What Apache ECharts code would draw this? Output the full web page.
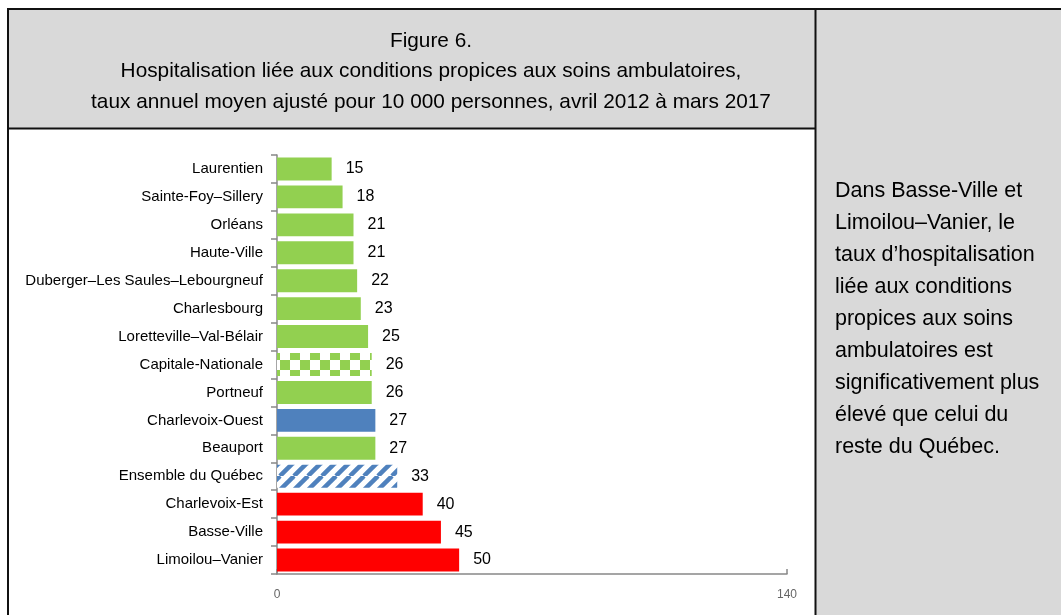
<!DOCTYPE html>
<html>
<head>
<meta charset="utf-8">
<script src="https://cdn.jsdelivr.net/npm/echarts@6/dist/echarts.min.js"></script>
<style>
  html, body { margin: 0; padding: 0; background: #fff; }
  #chart { width: 1061px; height: 615px; }
</style>
</head>
<body>
<div id="chart"></div>
<script>
const categories = [
  "Laurentien", "Sainte-Foy–Sillery", "Orléans", "Haute-Ville",
  "Duberger–Les Saules–Lebourgneuf", "Charlesbourg", "Loretteville–Val-Bélair",
  "Capitale-Nationale", "Portneuf", "Charlevoix-Ouest", "Beauport",
  "Ensemble du Québec", "Charlevoix-Est", "Basse-Ville", "Limoilou–Vanier"
];
const values = [15, 18, 21, 21, 22, 23, 25, 26, 26, 27, 27, 33, 40, 45, 50];
// fill kind per bar: g = green, b = blue, r = red, gc = green checks, bs = blue stripes
const fills = ["g", "g", "g", "g", "g", "g", "g", "gc", "g", "b", "g", "bs", "r", "r", "r"];
const axisTicks = [0, 140];

const titleLines = [
  "Figure 6.",
  "Hospitalisation liée aux conditions propices aux soins ambulatoires,",
  "taux annuel moyen ajusté pour 10 000 personnes, avril 2012 à mars 2017"
];
const noteLines = [
  "Dans Basse-Ville et", "Limoilou–Vanier, le", "taux d’hospitalisation",
  "liée aux conditions", "propices aux soins", "ambulatoires est",
  "significativement plus", "élevé que celui du", "reste du Québec."
];

const GREEN = "#92d050", BLUE = "#4f81bd", RED = "#ff0000";

function checks() {
  const c = document.createElement("canvas");
  c.width = 20; c.height = 20;
  const ctx = c.getContext("2d");
  ctx.fillStyle = "#fff"; ctx.fillRect(0, 0, 20, 20);
  ctx.fillStyle = GREEN;
  ctx.fillRect(0, 0, 10, 10); ctx.fillRect(10, 10, 10, 10);
  return c;
}
function stripes() {
  const s = 14;
  const c = document.createElement("canvas");
  c.width = s; c.height = s;
  const ctx = c.getContext("2d");
  ctx.fillStyle = "#fff"; ctx.fillRect(0, 0, s, s);
  ctx.strokeStyle = BLUE; ctx.lineWidth = 4.5;
  for (let k = -1; k <= 1; k++) {
    ctx.beginPath();
    ctx.moveTo(k * s, s); ctx.lineTo(k * s + s, 0);
    ctx.stroke();
  }
  return c;
}
const fillColor = {
  g: GREEN, b: BLUE, r: RED,
  gc: { image: checks(), repeat: "repeat" },
  bs: { image: stripes(), repeat: "repeat" }
};

const chart = echarts.init(document.getElementById("chart"));
const line = (x1, y1, x2, y2) => ({
  type: "line", z: 1,
  shape: { x1, y1, x2, y2 },
  style: { stroke: "#111", lineWidth: 2 }
});

const option = {
  animation: false,
  graphic: [
    { type: "rect", z: 0, shape: { x: 8, y: 9, width: 808, height: 120 }, style: { fill: "#d9d9d9" } },
    { type: "rect", z: 0, shape: { x: 816, y: 9, width: 245, height: 606 }, style: { fill: "#d9d9d9" } },
    line(7, 9, 1061, 9),
    line(8, 8, 8, 615),
    line(815.5, 8, 815.5, 615),
    line(8, 128.5, 815, 128.5),
    {
      type: "text", z: 2,
      x: 431, y: 26,
      style: {
        text: titleLines.join("\n"), align: "center", textAlign: "center",
        font: '20.8px "Liberation Sans", Arial, sans-serif',
        lineHeight: 30.5, fill: "#000"
      }
    },
    {
      type: "text", z: 2,
      x: 835, y: 175,
      style: {
        text: noteLines.join("\n"),
        font: '21.5px "Liberation Sans", Arial, sans-serif',
        lineHeight: 32, fill: "#000"
      }
    }
  ],
  grid: { left: 277, right: 274, top: 155, bottom: 41, containLabel: false },
  xAxis: {
    type: "value", min: axisTicks[0], max: axisTicks[1], interval: 140,
    axisLine: { show: true, lineStyle: { color: "#888", width: 1.5 } },
    axisTick: { show: true, length: 5, inside: true, lineStyle: { color: "#888", width: 1.5 } },
    splitLine: { show: false },
    axisLabel: {
      margin: 15, color: "#666", fontSize: 12,
      fontFamily: '"Liberation Sans", Arial, sans-serif'
    }
  },
  yAxis: {
    type: "category", data: categories, inverse: true,
    axisLine: { show: true, lineStyle: { color: "#888", width: 1.5 } },
    axisTick: { show: true, length: 6, lineStyle: { color: "#888", width: 1.5 } },
    axisLabel: {
      margin: 14, color: "#000", fontSize: 15,
      fontFamily: '"Liberation Sans", Arial, sans-serif'
    }
  },
  series: [{
    type: "bar",
    barCategoryGap: "18%",
    data: values.map((v, i) => ({ value: v, itemStyle: { color: fillColor[fills[i]] } })),
    label: {
      show: true, position: "right", distance: 14,
      color: "#000", fontSize: 16,
      fontFamily: '"Liberation Sans", Arial, sans-serif'
    }
  }]
};
chart.setOption(option);
</script>
</body>
</html>
